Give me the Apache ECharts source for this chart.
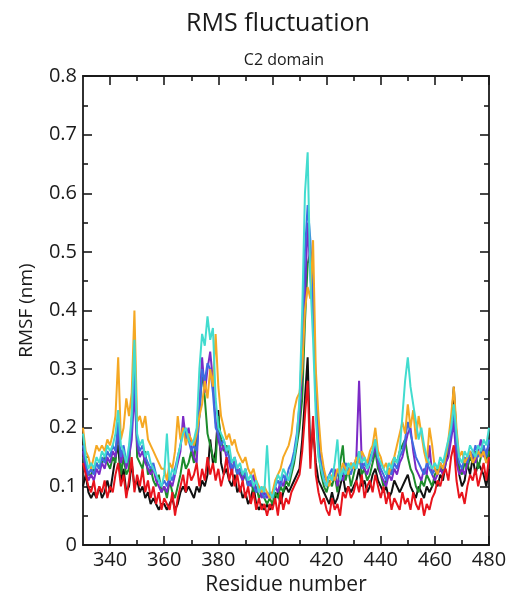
<!DOCTYPE html>
<html>
<head>
<meta charset="utf-8">
<script src="https://cdn.jsdelivr.net/npm/echarts@6/dist/echarts.min.js"></script>
<style>html,body{margin:0;padding:0;background:#fff}#c{width:515px;height:601px}</style>
</head>
<body>
<div id="c"></div>
<script>
// Residue numbers 330..480 (one point per residue)
const firstResidue = 330, lastResidue = 480;
const xMajorTicks = [340, 360, 380, 400, 420, 440, 460, 480];
const xMinorTicks = [350, 370, 390, 410, 430, 450, 470];
const seriesNames = ['black', 'red', 'green', 'purple', 'blue', 'turquoise', 'orange'];

const black = [
0.10,0.12,0.09,0.08,0.09,0.08,0.10,0.08,0.09,0.11,
0.09,0.12,0.15,0.17,0.11,0.13,0.09,0.10,0.14,0.10,
0.11,0.09,0.10,0.08,0.09,0.07,0.08,0.07,0.06,0.07,
0.07,0.06,0.07,0.08,0.06,0.07,0.09,0.10,0.09,0.10,
0.09,0.08,0.10,0.09,0.11,0.10,0.12,0.18,0.14,0.16,
0.23,0.14,0.12,0.13,0.11,0.10,0.12,0.09,0.10,0.08,
0.09,0.07,0.08,0.10,0.07,0.06,0.07,0.06,0.07,0.06,
0.07,0.08,0.09,0.07,0.09,0.10,0.09,0.10,0.11,0.12,
0.13,0.18,0.25,0.32,0.15,0.20,0.14,0.11,0.10,0.09,
0.08,0.07,0.09,0.07,0.08,0.10,0.12,0.09,0.10,0.09,
0.10,0.11,0.13,0.10,0.11,0.09,0.10,0.12,0.13,0.11,
0.10,0.09,0.10,0.08,0.09,0.11,0.10,0.09,0.10,0.11,
0.12,0.10,0.09,0.08,0.10,0.09,0.08,0.10,0.09,0.10,
0.11,0.10,0.12,0.11,0.14,0.16,0.20,0.27,0.18,0.12,
0.10,0.11,0.14,0.12,0.15,0.12,0.14,0.13,0.12,0.10,
0.13];
const red = [
0.14,0.12,0.10,0.09,0.11,0.08,0.10,0.09,0.11,0.08,
0.10,0.09,0.12,0.14,0.10,0.12,0.08,0.11,0.15,0.09,
0.12,0.10,0.13,0.09,0.11,0.08,0.10,0.07,0.09,0.06,
0.08,0.07,0.06,0.09,0.05,0.08,0.10,0.12,0.09,0.13,
0.11,0.12,0.14,0.10,0.13,0.11,0.15,0.12,0.14,0.11,
0.13,0.10,0.12,0.15,0.11,0.13,0.10,0.12,0.09,0.11,
0.08,0.10,0.07,0.09,0.06,0.08,0.06,0.07,0.05,0.07,
0.06,0.08,0.05,0.09,0.06,0.08,0.07,0.09,0.10,0.11,
0.12,0.16,0.22,0.28,0.13,0.22,0.12,0.09,0.07,0.08,
0.06,0.05,0.08,0.06,0.07,0.05,0.09,0.08,0.10,0.08,
0.09,0.11,0.09,0.12,0.08,0.10,0.11,0.09,0.12,0.10,
0.08,0.10,0.07,0.09,0.06,0.08,0.07,0.06,0.09,0.07,
0.08,0.06,0.09,0.07,0.06,0.08,0.05,0.07,0.06,0.08,
0.09,0.11,0.10,0.12,0.13,0.11,0.15,0.17,0.11,0.08,
0.09,0.07,0.10,0.12,0.11,0.13,0.10,0.12,0.14,0.11,
0.15];
const green = [
0.15,0.13,0.12,0.12,0.13,0.14,0.13,0.14,0.15,0.14,
0.13,0.15,0.14,0.20,0.12,0.15,0.12,0.13,0.22,0.33,
0.15,0.14,0.13,0.16,0.12,0.13,0.11,0.10,0.12,0.09,
0.10,0.08,0.11,0.09,0.08,0.10,0.12,0.15,0.13,0.14,
0.16,0.14,0.19,0.22,0.30,0.25,0.19,0.17,0.15,0.14,
0.22,0.18,0.16,0.17,0.15,0.13,0.14,0.12,0.13,0.11,
0.12,0.10,0.11,0.09,0.10,0.08,0.09,0.08,0.07,0.08,
0.07,0.09,0.08,0.10,0.09,0.11,0.10,0.12,0.14,0.17,
0.20,0.25,0.38,0.48,0.50,0.40,0.25,0.16,0.12,0.10,
0.09,0.11,0.10,0.12,0.09,0.14,0.17,0.11,0.13,0.10,
0.12,0.14,0.16,0.12,0.13,0.11,0.12,0.14,0.16,0.13,
0.12,0.10,0.11,0.13,0.12,0.15,0.14,0.16,0.17,0.18,
0.15,0.13,0.12,0.10,0.09,0.11,0.10,0.12,0.11,0.10,
0.12,0.13,0.14,0.12,0.15,0.16,0.19,0.22,0.16,0.13,
0.12,0.14,0.13,0.15,0.14,0.16,0.13,0.15,0.17,0.14,
0.16];
const purple = [
0.16,0.13,0.11,0.12,0.11,0.13,0.12,0.14,0.13,0.15,
0.14,0.16,0.15,0.20,0.14,0.16,0.13,0.15,0.18,0.26,
0.17,0.15,0.16,0.14,0.13,0.12,0.13,0.11,0.10,0.09,
0.10,0.09,0.11,0.10,0.12,0.14,0.16,0.22,0.18,0.20,
0.17,0.15,0.14,0.24,0.32,0.26,0.30,0.33,0.28,0.21,
0.18,0.16,0.17,0.15,0.14,0.12,0.15,0.13,0.12,0.11,
0.13,0.11,0.10,0.12,0.09,0.10,0.08,0.09,0.08,0.09,
0.08,0.10,0.09,0.11,0.10,0.12,0.11,0.13,0.15,0.18,
0.22,0.30,0.42,0.55,0.46,0.40,0.28,0.18,0.13,0.11,
0.10,0.12,0.11,0.13,0.10,0.12,0.11,0.13,0.12,0.14,
0.13,0.15,0.28,0.14,0.13,0.12,0.14,0.15,0.17,0.14,
0.12,0.11,0.10,0.12,0.11,0.13,0.12,0.14,0.15,0.17,
0.19,0.20,0.16,0.13,0.12,0.11,0.13,0.12,0.17,0.12,
0.11,0.12,0.13,0.12,0.14,0.15,0.18,0.21,0.14,0.12,
0.13,0.12,0.14,0.16,0.15,0.14,0.16,0.18,0.15,0.16,
0.17];
const blue = [
0.17,0.14,0.12,0.13,0.12,0.14,0.13,0.15,0.14,0.16,
0.15,0.17,0.16,0.21,0.15,0.17,0.14,0.16,0.20,0.30,
0.18,0.16,0.17,0.15,0.14,0.13,0.14,0.12,0.11,0.10,
0.11,0.10,0.12,0.11,0.13,0.15,0.17,0.20,0.19,0.18,
0.16,0.17,0.16,0.22,0.30,0.28,0.31,0.30,0.26,0.20,
0.19,0.17,0.18,0.16,0.15,0.13,0.14,0.12,0.13,0.12,
0.12,0.10,0.11,0.10,0.09,0.10,0.09,0.08,0.09,0.08,
0.09,0.10,0.11,0.10,0.12,0.11,0.13,0.14,0.16,0.19,
0.24,0.35,0.50,0.58,0.52,0.42,0.26,0.17,0.14,0.12,
0.11,0.12,0.13,0.11,0.12,0.13,0.12,0.14,0.13,0.12,
0.14,0.13,0.15,0.13,0.14,0.13,0.15,0.16,0.18,0.15,
0.13,0.12,0.11,0.13,0.12,0.14,0.13,0.15,0.16,0.18,
0.21,0.19,0.17,0.15,0.14,0.13,0.12,0.14,0.13,0.12,
0.13,0.12,0.14,0.13,0.15,0.17,0.19,0.23,0.17,0.14,
0.13,0.15,0.14,0.16,0.15,0.17,0.15,0.16,0.17,0.15,
0.18];
const turquoise = [
0.19,0.15,0.13,0.14,0.13,0.15,0.14,0.16,0.15,0.17,
0.16,0.17,0.19,0.23,0.17,0.16,0.14,0.17,0.22,0.35,
0.19,0.17,0.18,0.15,0.16,0.14,0.13,0.12,0.11,0.10,
0.12,0.19,0.11,0.13,0.12,0.15,0.17,0.19,0.20,0.18,
0.17,0.18,0.20,0.30,0.36,0.34,0.39,0.35,0.37,0.25,
0.20,0.19,0.18,0.16,0.17,0.14,0.15,0.13,0.14,0.12,
0.13,0.11,0.12,0.10,0.11,0.09,0.10,0.09,0.17,0.09,
0.08,0.10,0.12,0.11,0.13,0.12,0.11,0.13,0.15,0.18,
0.25,0.40,0.60,0.67,0.45,0.35,0.22,0.15,0.13,0.11,
0.10,0.12,0.11,0.14,0.18,0.11,0.13,0.12,0.14,0.13,
0.14,0.13,0.16,0.14,0.15,0.13,0.14,0.16,0.18,0.15,
0.14,0.13,0.12,0.14,0.13,0.15,0.14,0.16,0.22,0.28,
0.32,0.27,0.24,0.21,0.18,0.20,0.17,0.15,0.14,0.13,
0.14,0.13,0.15,0.14,0.16,0.18,0.20,0.24,0.19,0.15,
0.14,0.16,0.15,0.17,0.16,0.15,0.17,0.16,0.18,0.17,
0.20];
const orange = [
0.20,0.16,0.15,0.13,0.15,0.17,0.16,0.17,0.16,0.18,
0.17,0.19,0.22,0.32,0.18,0.20,0.25,0.22,0.26,0.40,
0.21,0.22,0.20,0.22,0.18,0.17,0.16,0.15,0.14,0.13,
0.13,0.11,0.14,0.13,0.16,0.22,0.18,0.20,0.17,0.19,
0.18,0.17,0.19,0.22,0.24,0.28,0.25,0.30,0.27,0.36,
0.27,0.22,0.20,0.18,0.19,0.17,0.18,0.16,0.15,0.14,
0.15,0.13,0.12,0.13,0.11,0.10,0.09,0.10,0.09,0.08,
0.09,0.11,0.12,0.13,0.15,0.16,0.17,0.19,0.23,0.25,
0.26,0.30,0.40,0.44,0.42,0.52,0.30,0.22,0.16,0.13,
0.11,0.10,0.12,0.11,0.13,0.12,0.14,0.13,0.12,0.14,
0.13,0.15,0.14,0.16,0.15,0.14,0.16,0.17,0.20,0.16,
0.15,0.13,0.14,0.12,0.14,0.15,0.17,0.19,0.21,0.19,
0.24,0.20,0.23,0.18,0.22,0.19,0.16,0.14,0.20,0.17,
0.13,0.12,0.14,0.13,0.15,0.18,0.22,0.27,0.20,0.15,
0.16,0.14,0.15,0.16,0.14,0.15,0.16,0.15,0.16,0.14,
0.15];

const values = { black, red, green, purple, blue, turquoise, orange };
const colors = { black:'#111111', red:'#e8141c', green:'#1c8c2c', purple:'#7b2ac6', blue:'#3f6be0', turquoise:'#42dccf', orange:'#f5a823' };
const drawOrder = ['black', 'green', 'purple', 'blue', 'orange', 'turquoise', 'red'];

const residues = [];
for (let r = firstResidue; r <= lastResidue; r++) residues.push(r);

const FONT = '"Open Sans", sans-serif';
const axisColor = '#1a1a1a';
const textColor = '#1a1a1a';

function xAxisDef(pos, major, labels) {
  return {
    type: 'value', position: pos, min: firstResidue, max: lastResidue,
    axisLine: { show: major, onZero: false, lineStyle: { color: axisColor, width: 1.8 } },
    axisTick: { show: true, inside: true, customValues: major ? xMajorTicks : xMinorTicks,
      length: major ? 9 : 5, lineStyle: { color: axisColor, width: 1.6 } },
    axisLabel: { show: labels, customValues: xMajorTicks, color: textColor, fontFamily: FONT, fontSize: 20, margin: 5 },
    splitLine: { show: false },
    name: labels ? 'Residue number' : '', nameLocation: 'middle', nameGap: 30,
    nameTextStyle: { color: textColor, fontFamily: FONT, fontSize: 21 }
  };
}
function yAxisDef(pos, labels) {
  return {
    type: 'value', position: pos, min: 0, max: 0.8, interval: 0.1,
    axisLine: { show: true, onZero: false, lineStyle: { color: axisColor, width: 1.8 } },
    axisTick: { show: true, inside: true, length: 9, lineStyle: { color: axisColor, width: 1.6 } },
    minorTick: { show: true, splitNumber: 2, length: 5, lineStyle: { color: axisColor, width: 1.6 } },
    axisLabel: { show: labels, color: textColor, fontFamily: FONT, fontSize: 20, margin: 6,
      formatter: v => (Math.round(v * 10) / 10).toString() },
    splitLine: { show: false },
    name: labels ? 'RMSF (nm)' : '', nameLocation: 'middle', nameGap: 47,
    nameTextStyle: { color: textColor, fontFamily: FONT, fontSize: 19 }
  };
}

const chart = echarts.init(document.getElementById('c'), null, { renderer: 'canvas' });
chart.setOption({
  animation: false,
  backgroundColor: '#fff',
  grid: { left: 83, right: 26, top: 76, bottom: 54 },
  graphic: [
    { type: 'text', x: 278, y: 11, style: { text: 'RMS fluctuation', fontFamily: FONT, fontSize: 25, fill: textColor, textAlign: 'center' } },
    { type: 'text', x: 284, y: 52, style: { text: 'C2 domain', fontFamily: FONT, fontSize: 16, fill: textColor, textAlign: 'center' } }
  ],
  xAxis: [xAxisDef('bottom', true, true), xAxisDef('bottom', false, false), xAxisDef('top', true, false), xAxisDef('top', false, false)],
  yAxis: [yAxisDef('left', true), yAxisDef('right', false)],
  series: drawOrder.map(name => ({
    name, type: 'line', xAxisIndex: 0, yAxisIndex: 0, symbol: 'none',
    lineStyle: { color: colors[name], width: 2 },
    data: residues.map((r, i) => [r, values[name][i]])
  }))
});
</script>
</body>
</html>
